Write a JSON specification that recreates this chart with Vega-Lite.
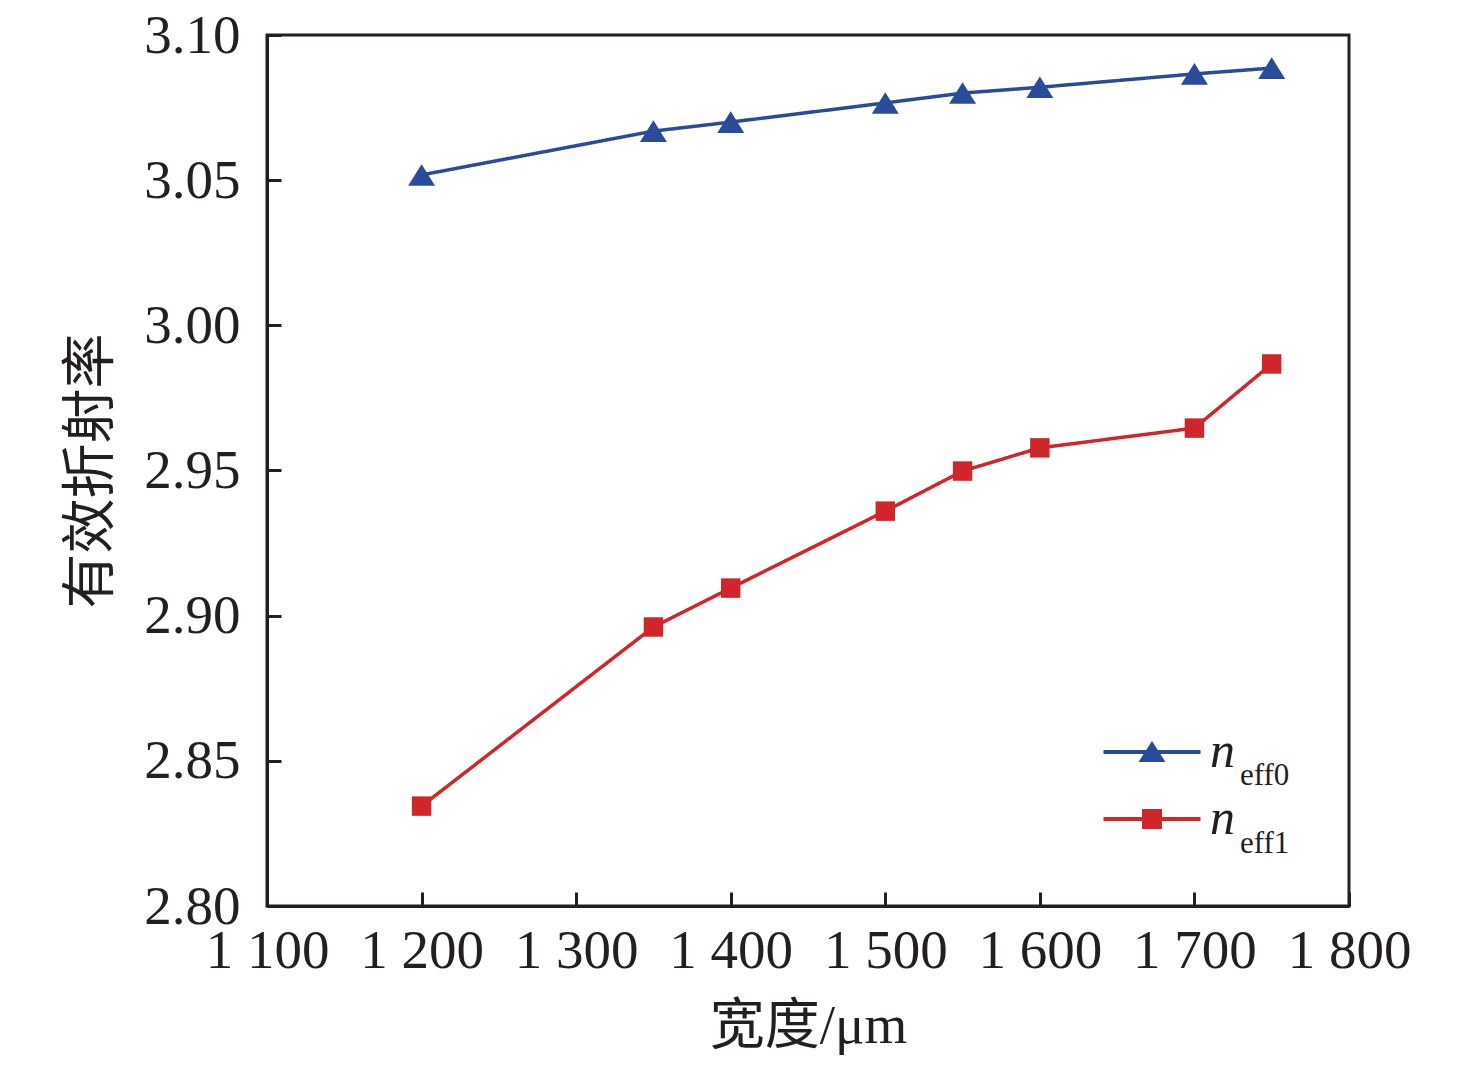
{
  "$schema": "https://vega.github.io/schema/vega-lite/v6.json",
  "width": 1082,
  "height": 871,
  "autosize": {"type": "none"},
  "padding": {"left": 267, "top": 35, "right": 127, "bottom": 159},
  "background": "white",
  "config": {
    "view": {"stroke": "#231f20", "strokeWidth": 3},
    "axis": {
      "domainColor": "#231f20",
      "domainWidth": 3,
      "tickColor": "#231f20",
      "tickWidth": 3,
      "tickSize": -14,
      "grid": false,
      "labelOverlap": false,
      "labelFlush": false,
      "labelFont": "Liberation Serif",
      "labelFontSize": 55,
      "labelColor": "#231f20",
      "titleFont": "Liberation Serif, Noto Sans CJK SC",
      "titleFontSize": 55,
      "titleFontWeight": "normal",
      "titleColor": "#231f20"
    }
  },
  "data": {
    "values": [
      {"width": 1200, "n": 3.0518, "series": "neff0"},
      {"width": 1350, "n": 3.0669, "series": "neff0"},
      {"width": 1400, "n": 3.0700, "series": "neff0"},
      {"width": 1500, "n": 3.0766, "series": "neff0"},
      {"width": 1550, "n": 3.0800, "series": "neff0"},
      {"width": 1600, "n": 3.0820, "series": "neff0"},
      {"width": 1700, "n": 3.0866, "series": "neff0"},
      {"width": 1750, "n": 3.0886, "series": "neff0"},
      {"width": 1200, "n": 2.8344, "series": "neff1"},
      {"width": 1350, "n": 2.8961, "series": "neff1"},
      {"width": 1400, "n": 2.9095, "series": "neff1"},
      {"width": 1500, "n": 2.9360, "series": "neff1"},
      {"width": 1550, "n": 2.9498, "series": "neff1"},
      {"width": 1600, "n": 2.9578, "series": "neff1"},
      {"width": 1700, "n": 2.9646, "series": "neff1"},
      {"width": 1750, "n": 2.9867, "series": "neff1"}
    ]
  },
  "encoding": {
    "x": {
      "field": "width",
      "type": "quantitative",
      "scale": {"domain": [1100, 1800], "nice": false, "zero": false},
      "axis": {
        "title": "宽度/μm",
        "values": [1100, 1200, 1300, 1400, 1500, 1600, 1700, 1800],
        "format": "d",
        "labelExpr": "substring(datum.label, 0, 1) + ' ' + substring(datum.label, 1)",
        "labelPadding": 32,
        "titlePadding": 21
      }
    },
    "y": {
      "field": "n",
      "type": "quantitative",
      "scale": {"domain": [2.8, 3.1], "nice": false, "zero": false},
      "axis": {
        "title": "有效折射率",
        "values": [2.8, 2.85, 2.9, 2.95, 3.0, 3.05, 3.1],
        "format": ".2f",
        "labelPadding": 41,
        "titlePadding": 24
      }
    },
    "color": {
      "field": "series",
      "type": "nominal",
      "scale": {"domain": ["neff0", "neff1"], "range": ["#2a4a9a", "#d0262b"]},
      "legend": {
        "title": null,
        "orient": "none",
        "legendX": 860,
        "legendY": 692,
        "symbolSize": 900,
        "symbolStrokeWidth": 0,
        "symbolOpacity": 1,
        "labelExpr": "'n'",
        "labelFont": "Liberation Serif",
        "labelFontStyle": "italic",
        "labelFontSize": 50,
        "labelColor": "#231f20",
        "labelOffset": 33,
        "rowPadding": 17,
        "encode": {
          "symbols": {
            "update": {
              "shape": {"signal": "datum.value === 'neff0' ? 'M-3.233,-0.133L3.233,-0.133L3.233,0.133L-3.233,0.133Z M-0.9,0.667L0,-0.733L0.9,0.667Z' : 'M-3.233,-0.133L3.233,-0.133L3.233,0.133L-3.233,0.133Z M-0.667,-0.667L0.667,-0.667L0.667,0.667L-0.667,0.667Z'"},
              "fill": {"signal": "datum.value === 'neff0' ? '#2a4a9a' : '#d0262b'"},
              "strokeWidth": {"value": 0},
              "opacity": {"value": 1}
            }
          }
        }
      }
    }
  },
  "layer": [
    {
      "mark": {"type": "line", "strokeWidth": 3.5},
      "encoding": {
        "strokeDash": {
          "field": "series",
          "type": "nominal",
          "scale": {"range": [[1, 0], [1, 0]]},
          "legend": {
            "title": null,
            "orient": "none",
            "legendX": 942,
            "legendY": 725,
            "symbolSize": 1,
            "symbolOpacity": 0,
            "symbolStrokeWidth": 0,
            "labelExpr": "substring(datum.label, 1)",
            "labelFont": "Liberation Serif",
            "labelFontSize": 31,
            "labelColor": "#231f20",
            "labelOffset": 0,
            "rowPadding": 36
          }
        }
      }
    },
    {
      "transform": [{"filter": "datum.series === 'neff0'"}],
      "mark": {"type": "point", "filled": true, "opacity": 1, "size": 729, "strokeWidth": 0, "shape": "M-1,0.8L0,-0.8L1,0.8Z"}
    },
    {
      "transform": [{"filter": "datum.series === 'neff1'"}],
      "mark": {"type": "point", "filled": true, "opacity": 1, "size": 729, "strokeWidth": 0, "shape": "M-0.72,-0.72L0.72,-0.72L0.72,0.72L-0.72,0.72Z"}
    }
  ]
}
